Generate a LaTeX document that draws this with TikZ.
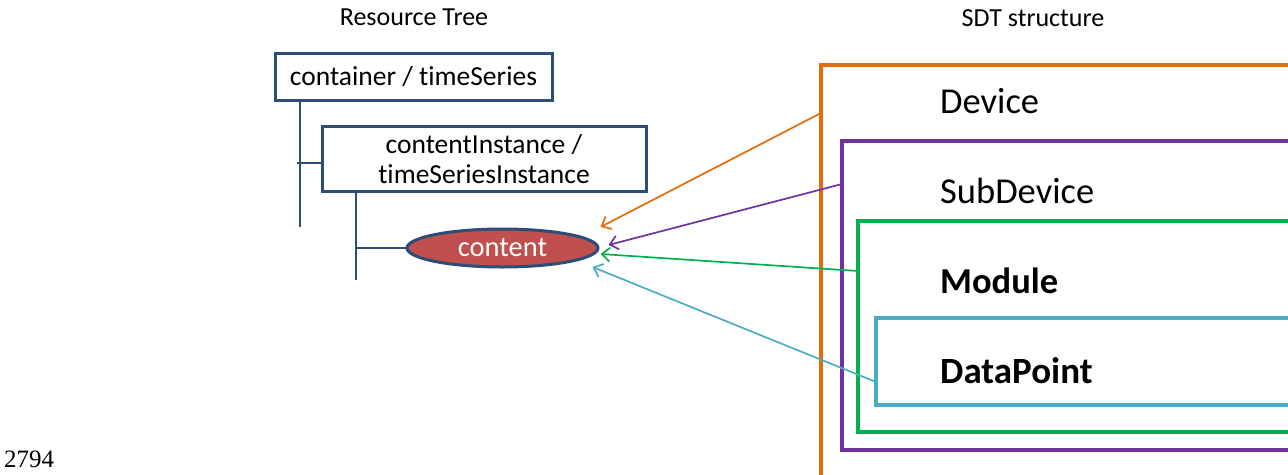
\documentclass[tikz,border=0pt]{standalone}
\usepackage{fontspec}
\setmainfont{Carlito}[Ligatures=NoCommon]
\newfontfamily\pagefont{Liberation Serif}
\usetikzlibrary{arrows.meta,shapes.geometric}
\definecolor{treeblue}{HTML}{2C4D75}
\definecolor{contentred}{HTML}{C0504D}
\definecolor{devorange}{HTML}{E46C0A}
\definecolor{subpurple}{HTML}{7030A0}
\definecolor{modgreen}{HTML}{00B050}
\definecolor{dpcyan}{HTML}{4BACC6}
\newcommand{\fs}[2]{\fontsize{#1}{#2}\selectfont}

\begin{document}
\begin{tikzpicture}[x=1pt,y=-1pt,
    res/.style={draw=treeblue,line width=3pt,fill=white,inner sep=0pt,align=center,font=\fs{27.5}{30}},
    link/.style={treeblue,line width=1.6pt},
    frame/.style={line width=3.2pt},
    lbl/.style={anchor=base west,inner sep=0pt,font=\fs{36.5}{40}},
    ref/.style={line width=1.7pt,-{Straight Barb[length=8pt,width=14pt]}}]
    \useasboundingbox (0,0) rectangle (1288,474);

    \node[font=\fs{26}{30}] (rtitle) at (414,17) {Resource Tree};
    \node[font=\fs{26}{30}] (stitle) at (1033,18) {SDT structure};

    \node[res,minimum width=277pt,minimum height=47pt] (cont) at (413.5,76.5) {container / timeSeries};
    \node[res,minimum width=324pt,minimum height=65pt] (inst) at (484,159) {contentInstance /\\timeSeriesInstance};
    \node[ellipse,draw=treeblue,line width=3pt,fill=contentred,text=white,inner sep=0pt,
          minimum width=191pt,minimum height=38pt,font=\fs{28.5}{30}] (cnt) at (502.5,248) {content};

    \coordinate (t1) at (300,227);
    \coordinate (tk) at (297,163);
    \coordinate (t2) at (356,280);
    \draw[link] (t1 |- cont.south) -- (t1);
    \draw[link] (tk) -- (tk -| inst.west);
    \draw[link] (t2 |- inst.south) -- (t2);
    \draw[link] (t2 |- cnt) -- (cnt.west);

    \draw[frame,devorange] (1295,65) -- (821,65) -- (821,480);
    \draw[frame,subpurple] (1295,141) -- (842,141) -- (842,450) -- (1295,450);
    \draw[frame,modgreen] (1295,221) -- (858,221) -- (858,432) -- (1295,432);
    \draw[frame,dpcyan] (1295,318) -- (876,318) -- (876,405) -- (1295,405);

    \node[lbl] (dev) at (940,113) {Device};
    \node[lbl] (sub) at (940,203) {SubDevice};
    \node[lbl,font=\fs{36.5}{40}\bfseries] (mod) at (940,293) {Module};
    \node[lbl,font=\fs{37}{40}\bfseries] (dp) at (940,383) {DataPoint};

    \coordinate (devport) at (821,113);
    \coordinate (subport) at (842,184);
    \coordinate (modport) at (858,271);
    \coordinate (dpport) at (876,382);
    \draw[ref,devorange] (devport) -- ([shift={(1,-21)}]cnt.east);
    \draw[ref,subpurple] (subport) -- ([shift={(9,-3)}]cnt.east);
    \draw[ref,modgreen] (modport) -- ([shift={(1,6)}]cnt.east);
    \draw[ref,dpcyan] (dpport) -- ([shift={(-7,19)}]cnt.east);

    \node[anchor=base west,inner sep=0pt,font=\pagefont\fs{25}{30}] (pgno) at (4,467) {2794};
\end{tikzpicture}
\end{document}
